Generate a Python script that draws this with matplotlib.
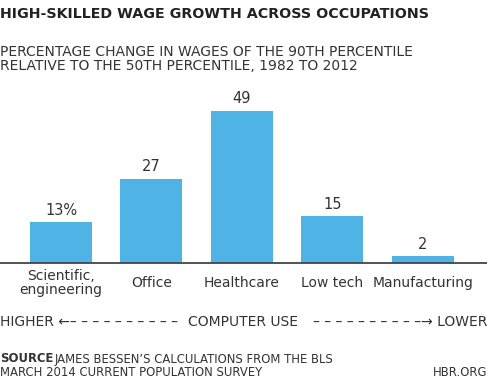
import matplotlib.pyplot as plt
import matplotlib.transforms as mtransforms

# data
categories = ["Scientific,\nengineering", "Office", "Healthcare", "Low tech", "Manufacturing"]
values = [13, 27, 49, 15, 2]
value_labels = ["13%", "27", "49", "15", "2"]

BAR_COLOR = "#50B3E6"
TEXT_COLOR = "#333333"

W, H = 487, 382
fig = plt.figure(figsize=(W / 100, H / 100), dpi=100)

# axes: full width, baseline at y=262px
base_px = 262.5
top_px = 100
ax = fig.add_axes([0, 1 - base_px / H, 1, (base_px - top_px) / H])

step = 90.4
x0 = 61
xs = list(range(len(values)))
ax.bar(xs, values, width=0.686, color=BAR_COLOR)
ax.set_xlim(-x0 / step, (W - x0) / step)
ax.set_ylim(0, (base_px - top_px) / 3.1)

for x, v, lab in zip(xs, values, value_labels):
    ax.annotate(lab, (x, v), xytext=(0, 8.5), textcoords="offset points",
                ha="center", va="center", fontsize=10.5, color=TEXT_COLOR)

for s in ["top", "right", "left"]:
    ax.spines[s].set_visible(False)
ax.spines["bottom"].set_color("#444444")
ax.spines["bottom"].set_linewidth(1.3)
ax.set_yticks([])
ax.set_xticks([])

def fy(px):
    return 1 - px / H

# category labels, centred vertically under the bars
trans = mtransforms.blended_transform_factory(ax.transData, fig.transFigure)
for x, cat in zip(xs, categories):
    ax.text(x, fy(283), cat, transform=trans, ha="center", va="center",
            fontsize=10, color=TEXT_COLOR, linespacing=1.05)

# title and subtitle
fig.text(0.0, fy(14), "HIGH-SKILLED WAGE GROWTH ACROSS OCCUPATIONS",
         fontsize=10.3, fontweight="bold", color="#222222", va="center")
fig.text(0.0, fy(52), "PERCENTAGE CHANGE IN WAGES OF THE 90TH PERCENTILE",
         fontsize=10, color=TEXT_COLOR, va="center")
fig.text(0.0, fy(66), "RELATIVE TO THE 50TH PERCENTILE, 1982 TO 2012",
         fontsize=10, color=TEXT_COLOR, va="center")

# computer use axis
dashes = " ".join(["\u2013"] * 10)
fig.text(0.0, fy(322), "HIGHER \u2190" + dashes, fontsize=10, color=TEXT_COLOR, va="center")
fig.text(0.5, fy(322), "COMPUTER USE", fontsize=10, color=TEXT_COLOR, va="center", ha="center")
fig.text(1.0, fy(322), dashes + "\u2192 LOWER", fontsize=10, color=TEXT_COLOR, va="center", ha="right")

# source
fig.text(0.0, fy(359), "SOURCE", fontsize=8.4, fontweight="bold", color=TEXT_COLOR, va="center")
fig.text(0.112, fy(359), "JAMES BESSEN\u2019S CALCULATIONS FROM THE BLS",
         fontsize=8.4, color=TEXT_COLOR, va="center")
fig.text(0.0, fy(372), "MARCH 2014 CURRENT POPULATION SURVEY",
         fontsize=8.4, color=TEXT_COLOR, va="center")
fig.text(1.0, fy(372), "HBR.ORG", fontsize=8.4, color=TEXT_COLOR, va="center", ha="right")

fig.savefig("out.png", dpi=100, facecolor="white")
